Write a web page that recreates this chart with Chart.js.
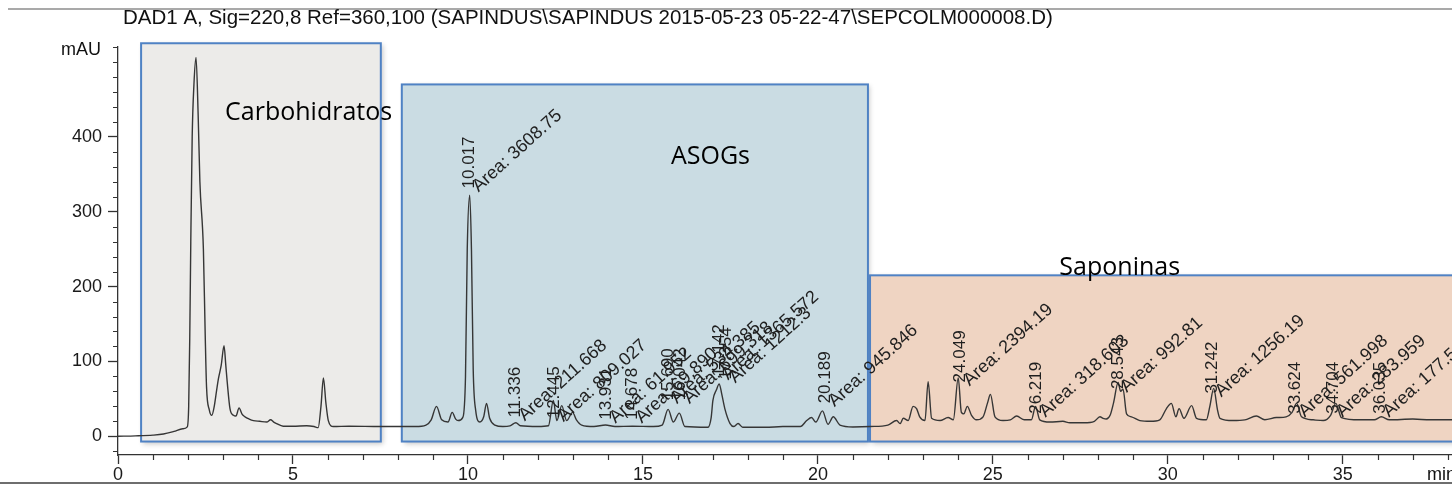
<!DOCTYPE html>
<html lang="es">
<head>
<meta charset="UTF-8">
<title>Cromatograma SAPINDUS</title>
<script src="https://cdn.jsdelivr.net/npm/chart.js@4.4.1/dist/chart.umd.min.js"></script>
<style>
  body { margin: 0; background: #fff; }
  canvas { display: block; }
</style>
</head>
<body>
<canvas id="crom" width="1452" height="484"></canvas>
<script>
const tiempo = [
  0, 0.5, 1.0, 1.3, 1.6, 1.85, 1.98, 2.02, 2.05, 2.08, 2.12, 2.17, 2.23, 2.29, 2.34, 2.44, 2.49, 2.53, 2.61, 2.68,
  2.75, 2.82, 2.87, 2.95, 3.03, 3.08, 3.12, 3.2, 3.3, 3.37, 3.46, 3.54, 3.63, 3.75, 3.87, 4.05, 4.25, 4.36, 4.45, 4.53,
  4.72, 5.0, 5.39, 5.6, 5.72, 5.8, 5.87, 5.94, 6.01, 6.15, 6.6, 7.5, 8.0, 8.5, 8.8, 8.95, 9.1, 9.25, 9.43, 9.55,
  9.65, 9.72, 9.85, 9.93, 9.98, 10.05, 10.1, 10.15, 10.22, 10.34, 10.45, 10.53, 10.62, 10.77, 11.0, 11.2, 11.37, 11.5, 12.0, 12.3,
  12.44, 12.54, 12.68, 12.82, 12.99, 13.1, 13.25, 13.6, 13.93, 14.2, 14.7, 15.3, 15.55, 15.72, 15.87, 16.04, 16.2, 16.86, 16.95, 17.0,
  17.1, 17.18, 17.25, 17.34, 17.49, 17.6, 17.72, 17.85, 18.5, 19.0, 19.5, 19.68, 19.82, 19.94, 20.13, 20.29, 20.44, 20.63, 21.0, 21.5,
  22.0, 22.25, 22.35, 22.44, 22.58, 22.72, 22.82, 22.91, 23.06, 23.15, 23.25, 23.49, 23.72, 23.87, 24.01, 24.1, 24.17, 24.27, 24.39, 24.53,
  24.72, 24.85, 24.93, 25.06, 25.29, 25.5, 25.68, 25.9, 26.1, 26.22, 26.34, 26.63, 27.0, 27.2, 27.6, 27.9, 28.06, 28.15, 28.24, 28.35,
  28.45, 28.58, 28.65, 28.72, 28.82, 28.96, 29.2, 29.5, 29.77, 29.96, 30.1, 30.23, 30.32, 30.46, 30.68, 30.82, 31.1, 31.2, 31.31, 31.42,
  31.49, 31.86, 32.2, 32.53, 32.77, 33.1, 33.38, 33.55, 33.68, 33.82, 34.15, 34.44, 34.65, 34.8, 34.96, 35.48, 35.9, 36.1, 36.33, 37.0,
  37.5, 38.12
];
const senal = [
  0, 0.5, 1.5, 3, 6.5, 10, 12.5, 40, 130, 260, 400, 470, 506, 430, 340, 250, 140, 66, 35, 28,
  40, 62, 77, 95, 121, 95, 73, 37, 28, 27, 38, 30, 26, 23, 21, 20, 19, 22, 19, 17,
  13.5, 13.5, 14, 13, 11.6, 40, 78, 45, 21, 13, 13.5, 13, 13, 13, 15, 22, 40, 22, 19, 32,
  23, 21, 25, 80, 250, 322, 250, 90, 35, 19, 26, 44, 24, 15, 13, 14, 18, 14, 13, 14,
  48, 21, 41, 21, 32, 22, 15, 13, 15, 13, 13.5, 13, 15, 36, 19, 31, 13, 12, 25, 48,
  62, 70, 57, 37, 17, 13, 17, 12, 12, 13, 13, 21, 25, 19, 34, 16, 26, 15, 12.5, 13,
  15, 21, 17, 24, 21, 40, 37, 26, 21, 73, 24, 21, 25, 22, 78, 32, 30, 40, 28, 22,
  26, 45, 56, 26, 21, 22, 27, 22, 22, 40, 22, 19, 20, 18, 18, 20, 26, 24, 23, 28,
  45, 72, 60, 63, 30, 26, 21, 20, 22, 37, 44, 26, 37, 24, 41, 24, 22, 40, 64, 35,
  24, 21, 22, 27, 22, 25, 26, 32, 44, 26, 22, 21, 28, 44, 25, 22, 22, 26, 22, 23,
  22, 22
];

// etiquetas de integración: tiempo de retención, área y altura (mAU) donde arrancan
const picosTR = ['10.017', '11.336', '12.445', '13.931', '14.678', '15.690', '16.042', '17.142', '17.354',
  '20.189', '24.049', '26.219', '28.543', '31.242', '33.624', '34.704', '36.035'];
const picosArea = ['3608.75', '211.668', '809.027', '61.952', '69.890', '534.385', '699.318', '1365.572', '1212.3',
  '945.846', '2394.19', '318.603', '992.81', '1256.19', '561.998', '283.959', '177.514'];
const picosNivel = [331, 25, 24, 22, 22, 48, 48, 80, 76, 44, 72, 30, 63, 57, 30, 30, 30];

// zonas del cromatograma
const zonas = ['Carbohidratos', 'ASOGs', 'Saponinas'];
const zonaDesde = [0.66, 8.11, 21.49];
const zonaHasta = [7.51, 21.43, 38.3];
const zonaTecho = [525, 470, 215];
const zonaSuelo = -7;
const zonaRotuloX = [3.06, 15.8, 26.9];
const zonaRotuloY = [432, 373, 225];
const zonaColor = ['#ecebe9', '#cadce3', '#efd4c2'];

const titulo = 'DAD1 A, Sig=220,8 Ref=360,100 (SAPINDUS\\SAPINDUS 2015-05-23 05-22-47\\SEPCOLM000008.D)';

const esMayorY = v => v % 100 === 0 && v <= 400;

const decoracion = {
  id: 'decoracion',
  beforeDraw(chart) {
    const c = chart.ctx;
    c.save();
    c.fillStyle = '#fff';
    c.fillRect(0, 0, chart.width, chart.height);
    c.strokeStyle = '#8c8c8c';
    c.lineWidth = 1.5;
    c.beginPath(); c.moveTo(8, 9); c.lineTo(chart.width, 9); c.stroke();
    c.strokeStyle = '#6e6e6e';
    c.lineWidth = 2;
    c.beginPath(); c.moveTo(0, 483); c.lineTo(chart.width, 483); c.stroke();
    c.restore();
  },
  beforeDatasetsDraw(chart) {
    const c = chart.ctx, x = chart.scales.x, y = chart.scales.y;
    c.save();
    zonas.forEach((z, i) => {
      const x0 = x.getPixelForValue(zonaDesde[i]), x1 = x.getPixelForValue(zonaHasta[i]);
      const y0 = y.getPixelForValue(zonaTecho[i]), y1 = y.getPixelForValue(zonaSuelo);
      c.shadowColor = 'rgba(0,0,0,0.22)';
      c.shadowBlur = 5;
      c.shadowOffsetX = 2;
      c.shadowOffsetY = 2;
      c.fillStyle = zonaColor[i];
      c.fillRect(x0, y0, x1 - x0, y1 - y0);
      c.shadowColor = 'transparent';
      c.strokeStyle = '#4f82c4';
      c.lineWidth = 2;
      c.strokeRect(x0, y0, x1 - x0, y1 - y0);
    });
    c.restore();
  },
  afterDatasetsDraw(chart) {
    const c = chart.ctx, x = chart.scales.x, y = chart.scales.y;
    c.save();
    // rótulos de zona
    c.fillStyle = '#000';
    c.font = '25px "Open Sans"';
    c.textBaseline = 'middle';
    zonas.forEach((z, i) => {
      c.fillText(z, x.getPixelForValue(zonaRotuloX[i]), y.getPixelForValue(zonaRotuloY[i]));
    });
    // etiquetas de picos
    c.fillStyle = '#1f1f1f';
    picosTR.forEach((tr, i) => {
      const px = x.getPixelForValue(parseFloat(tr));
      const py = y.getPixelForValue(picosNivel[i]);
      c.save();
      c.font = '17px "Liberation Sans"';
      c.translate(px + 1, py);
      c.rotate(-Math.PI / 2);
      c.textAlign = 'left';
      c.textBaseline = 'middle';
      c.fillText(tr, 0, 0);
      c.restore();
      c.save();
      c.font = '18px "Liberation Sans"';
      c.translate(px + 10, py + 4);
      c.rotate(-42 * Math.PI / 180);
      c.textAlign = 'left';
      c.textBaseline = 'alphabetic';
      c.fillText('Area: ' + picosArea[i], 0, 0);
      c.restore();
    });
    c.restore();
  },
  afterDraw(chart) {
    const c = chart.ctx, x = chart.scales.x, y = chart.scales.y;
    c.save();
    // marcas menores
    c.strokeStyle = '#333';
    c.lineWidth = 1.2;
    c.beginPath();
    y.ticks.forEach(t => {
      if (!esMayorY(t.value)) {
        const py = Math.round(y.getPixelForValue(t.value)) + 0.5;
        c.moveTo(y.right - 5, py); c.lineTo(y.right, py);
      }
    });
    x.ticks.forEach(t => {
      if (t.value % 5 !== 0) {
        const px = Math.round(x.getPixelForValue(t.value)) + 0.5;
        c.moveTo(px, x.top); c.lineTo(px, x.top + 5);
      }
    });
    c.stroke();
    // textos de ejes y título
    c.fillStyle = '#111';
    c.textBaseline = 'middle';
    c.font = '20.5px "Liberation Sans"';
    c.fillText(titulo, 123, 18);
    c.font = '18px "Liberation Sans"';
    c.textAlign = 'right';
    c.fillText('mAU', 101, 50);
    c.fillText('min', chart.width + 4, 475);
    c.restore();
  }
};

new Chart(document.getElementById('crom'), {
  type: 'line',
  data: {
    datasets: [{
      data: tiempo.map((t, i) => ({ x: t, y: senal[i] })),
      borderColor: '#363636',
      borderWidth: 1.4,
      pointRadius: 0,
      cubicInterpolationMode: 'monotone',
      fill: false
    }]
  },
  options: {
    responsive: false,
    animation: false,
    events: [],
    layout: { padding: { top: 47, right: 0, bottom: 0, left: 0 } },
    plugins: { legend: { display: false }, tooltip: { enabled: false } },
    scales: {
      x: {
        type: 'linear',
        min: 0,
        max: 38.12,
        border: { color: '#333', width: 1.3 },
        grid: {
          drawOnChartArea: false,
          tickLength: 9,
          tickWidth: 1.3,
          tickColor: c => (c.tick && c.tick.value % 5 === 0) ? '#333' : 'rgba(0,0,0,0)'
        },
        ticks: {
          stepSize: 1,
          autoSkip: false,
          includeBounds: false,
          maxRotation: 0,
          padding: 0,
          color: '#1a1a1a',
          font: { family: 'Liberation Sans', size: 18 },
          callback: v => v % 5 === 0 ? v : ''
        },
        afterFit: s => { s.height = 29; }
      },
      y: {
        min: -25,
        max: 520,
        border: { color: '#333', width: 1.3 },
        grid: {
          drawOnChartArea: false,
          tickLength: 10,
          tickWidth: 1.3,
          tickColor: c => (c.tick && esMayorY(c.tick.value)) ? '#333' : 'rgba(0,0,0,0)'
        },
        ticks: {
          stepSize: 20,
          autoSkip: false,
          includeBounds: false,
          padding: 6,
          color: '#1a1a1a',
          font: { family: 'Liberation Sans', size: 18 },
          callback: v => esMayorY(v) ? v : ''
        },
        afterFit: s => { s.width = 118; }
      }
    }
  },
  plugins: [decoracion]
});
</script>
</body>
</html>
